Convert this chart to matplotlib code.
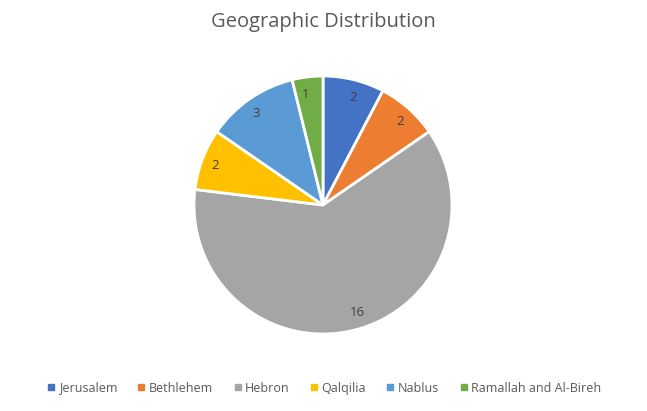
import matplotlib.pyplot as plt
from matplotlib.lines import Line2D

regions = ["Jerusalem", "Bethlehem", "Hebron", "Qalqilia", "Nablus", "Ramallah and Al-Bireh"]
counts = [2, 2, 16, 2, 3, 1]
colors = ["#4472C4", "#ED7D31", "#A5A5A5", "#FFC000", "#5B9BD5", "#70AD47"]

plt.rcParams['font.family'] = ['Open Sans', 'DejaVu Sans']

W, H = 647, 411
fig = plt.figure(figsize=(W / 100, H / 100), dpi=100)
cx, cy, r = 323, 205, 129
ax = fig.add_axes([(cx - r) / W, (H - cy - r) / H, 2 * r / W, 2 * r / H])

wedges, texts = ax.pie(counts, colors=colors, startangle=90, counterclock=False,
                       labels=[str(c) for c in counts], labeldistance=0.86,
                       wedgeprops=dict(edgecolor="white", linewidth=2),
                       textprops=dict(color="#404040", fontsize=9.5))
ax.set_xlim(-1, 1)
ax.set_ylim(-1, 1)
ax.set_aspect('equal')

fig.text(cx / W, 1 - 22 / H, "Geographic Distribution", ha='center', va='center',
         fontsize=14.5, color="#595959")

handles = [Line2D([0], [0], marker='s', linestyle='none', markersize=5,
                  markerfacecolor=c, markeredgecolor=c) for c in colors]
fig.legend(handles, regions, loc='center', bbox_to_anchor=(cx / W, 1 - 388 / H),
           ncol=6, frameon=False, fontsize=9, labelcolor="#595959",
           handletextpad=0.1, columnspacing=1.45, handlelength=1)

fig.savefig("out.png", dpi=100)
